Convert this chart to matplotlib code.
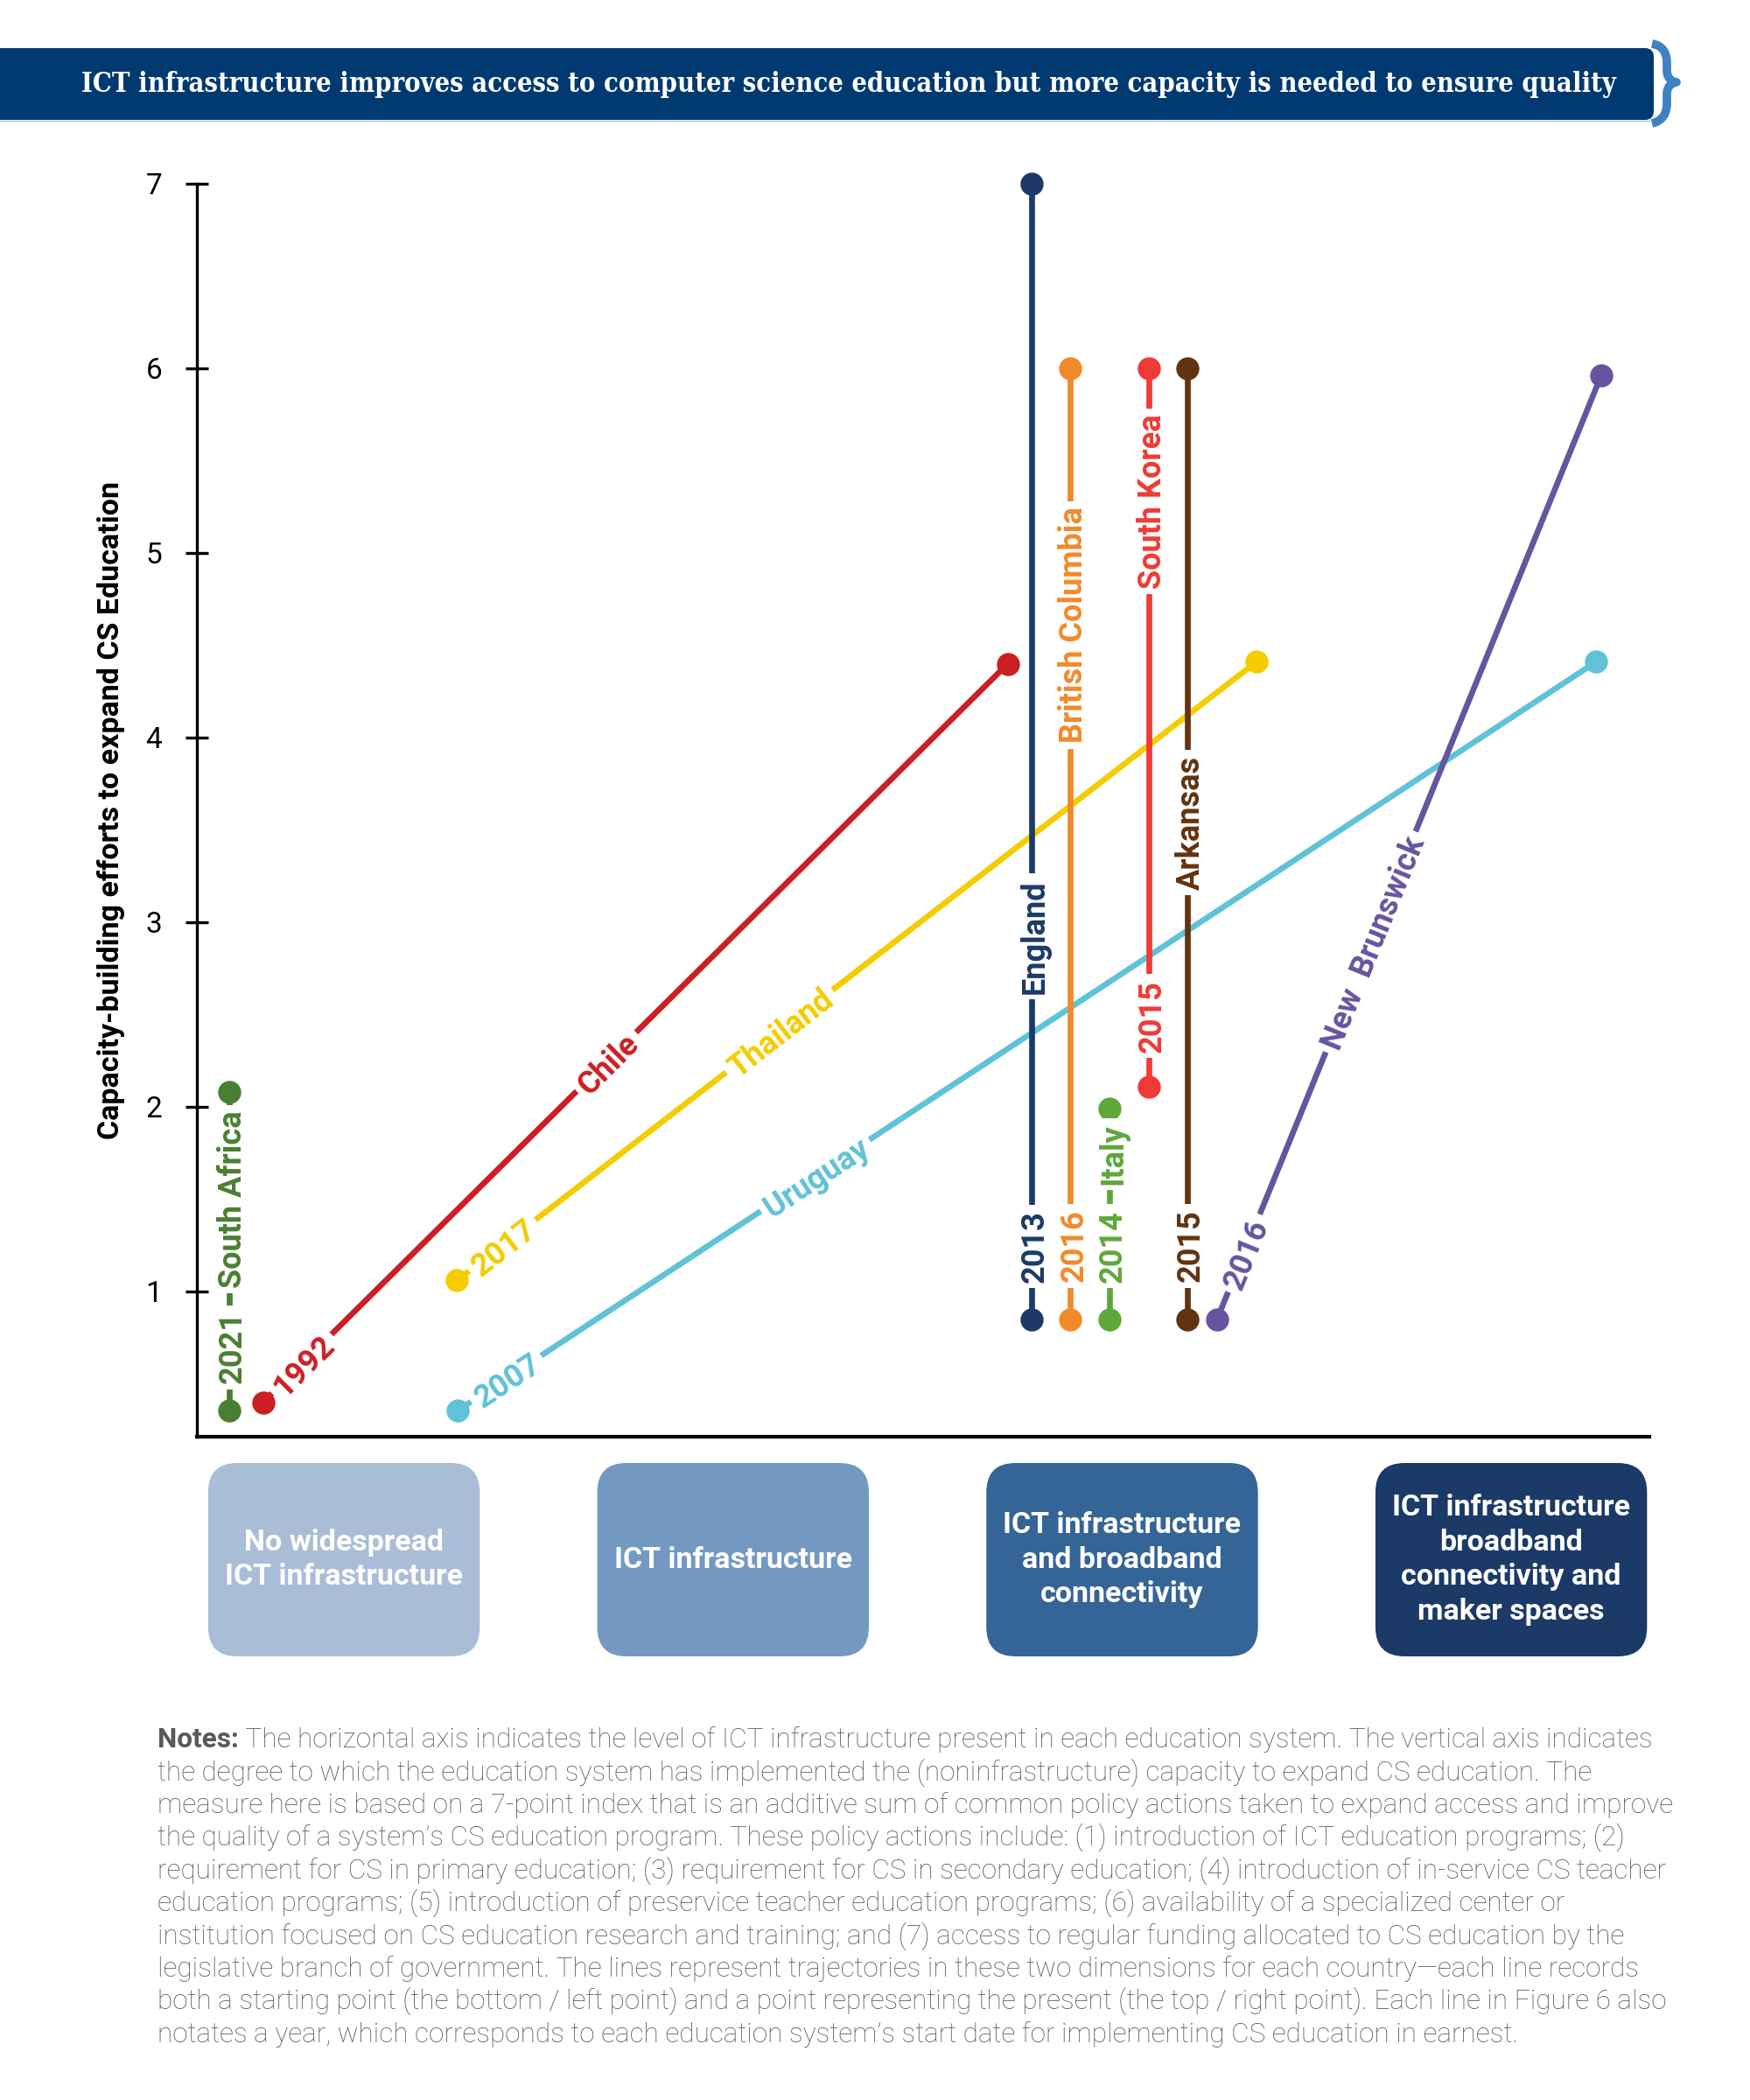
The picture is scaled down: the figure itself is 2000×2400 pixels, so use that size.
import matplotlib.pyplot as plt
import numpy as np
from matplotlib.patches import FancyBboxPatch, PathPatch
from matplotlib.path import Path

plt.rcParams["font.family"] = ["Roboto", "DejaVu Sans"]

# ---- data ----
systems = ["South Africa", "Chile", "Thailand", "Uruguay", "England",
           "British Columbia", "Italy", "South Korea", "Arkansas", "New  Brunswick"]
start_years = ["2021", "1992", "2017", "2007", "2013", "2016", "2014", "2015", "2015", "2016"]
ict_start = [0.705, 0.792, 1.291, 1.292, 2.767, 2.867, 2.968, 3.068, 3.168, 3.244]
ict_now = [0.705, 2.706, 3.345, 4.218, 2.767, 2.867, 2.968, 3.068, 3.168, 4.231]
cap_start = [0.355, 0.40, 1.06, 0.355, 0.85, 0.85, 0.85, 2.11, 0.85, 0.85]
cap_now = [2.08, 4.40, 4.41, 4.41, 7.0, 6.0, 1.99, 6.0, 6.0, 5.96]

ict_levels = ["No widespread\nICT infrastructure",
              "ICT infrastructure",
              "ICT infrastructure\nand broadband\nconnectivity",
              "ICT infrastructure\nbroadband\nconnectivity and\nmaker spaces"]
ict_level_pos = [1, 2, 3, 4]
y_ticks = [1, 2, 3, 4, 5, 6, 7]

title = ("ICT infrastructure improves access to computer science education "
         "but more capacity is needed to ensure quality")
ylabel = "Capacity-building efforts to expand CS Education"
notes_first = "The horizontal axis indicates the level of ICT infrastructure present in each education system. The vertical axis indicates"
notes_lines = [
    "the degree to which the education system has implemented the (noninfrastructure) capacity to expand CS education. The",
    "measure here is based on a 7-point index that is an additive sum of common policy actions taken to expand access and improve",
    "the quality of a system\u2019s CS education program. These policy actions include: (1) introduction of ICT education programs; (2)",
    "requirement for CS in primary education; (3) requirement for CS in secondary education; (4) introduction of in-service CS teacher",
    "education programs; (5) introduction of preservice teacher education programs; (6) availability of a specialized center or",
    "institution focused on CS education research and training; and (7) access to regular funding allocated to CS education by the",
    "legislative branch of government. The lines represent trajectories in these two dimensions for each country\u2014each line records",
    "both a starting point (the bottom / left point) and a point representing the present (the top / right point). Each line in Figure 6 also",
    "notates a year, which corresponds to each education system\u2019s start date for implementing CS education in earnest.",
]

# ---- styling ----
colors = ["#4A7F33", "#CC1F24", "#F5CC00", "#5FC2D9", "#1B3A68",
          "#F28A2B", "#5EA83A", "#EE3B36", "#62330F", "#6654A0"]
# label positions as fraction along each line (year label, name label)
year_t = [0.198, 0.052, 0.0565, 0.0426, 0.064, 0.077, 0.347, 0.098, 0.077, 0.070]
name_t = [0.664, 0.461, 0.403, 0.314, 0.337, 0.730, 0.784, 0.815, 0.522, 0.40]
box_colors = ["#A9BDD6", "#7399C3", "#356496", "#1B3A68"]
navy = "#003A70"
grey = "#58595B"

W, H = 2000, 2400
fig = plt.figure(figsize=(20, 24), dpi=100)


def fx(px):
    return px / W


def fy(py):
    return 1 - py / H


# canvas in pixel units for banner and notes
cv = fig.add_axes([0, 0, 1, 1])
cv.set_xlim(0, W)
cv.set_ylim(H, 0)
cv.axis("off")

# main plot
ax = fig.add_axes([fx(225), fy(1642), fx(1885) - fx(225), fy(210) - fy(1642)])
ax.set_xlim(0.622, 4.355)
ax.set_ylim(0.213, 7)
ax.patch.set_alpha(0)

for i, name in enumerate(systems):
    c = colors[i]
    xs = [ict_start[i], ict_now[i]]
    ys = [cap_start[i], cap_now[i]]
    ax.plot(xs, ys, color=c, lw=4.8, solid_capstyle="butt", zorder=2, clip_on=False)
    ax.plot(xs, ys, "o", ms=19, color=c, mec="none", zorder=3, clip_on=False)

    p0 = ax.transData.transform((xs[0], ys[0]))
    p1 = ax.transData.transform((xs[1], ys[1]))
    ang = np.degrees(np.arctan2(p1[1] - p0[1], p1[0] - p0[0]))
    for txt, t in ((start_years[i], year_t[i]), (name, name_t[i])):
        ax.text(xs[0] + t * (xs[1] - xs[0]), ys[0] + t * (ys[1] - ys[0]), txt,
                rotation=ang, rotation_mode="anchor", ha="center", va="center_baseline",
                color=c, fontsize=26, fontweight="bold", zorder=5,
                bbox=dict(boxstyle="square,pad=0.18", fc="white", ec="none"))

ax.set_yticks(y_ticks)
ax.set_yticklabels([str(v) for v in y_ticks])
ax.set_xticks([])
ax.tick_params(axis="y", direction="inout", length=19, width=2.4, pad=19, labelsize=24)
for s in ["top", "right"]:
    ax.spines[s].set_visible(False)
ax.spines["left"].set_linewidth(2.4)
ax.spines["bottom"].set_linewidth(3)

fig.text(fx(127), fy(926), ylabel, rotation=90, ha="center", va="center",
         fontsize=24.5, fontweight="bold")

# ICT level boxes under the axis
bx = fig.add_axes([fx(225), fy(1893), fx(1885) - fx(225), fy(1672) - fy(1893)])
bx.set_xlim(ax.get_xlim())
unit = (1885 - 225) / (ax.get_xlim()[1] - ax.get_xlim()[0])
bh = (1893 - 1672) / unit
bx.set_ylim(0, bh)
bx.axis("off")
for k, lab in enumerate(ict_levels):
    c = ict_level_pos[k]
    bx.add_patch(FancyBboxPatch((c - 0.349, 0), 0.698, bh,
                                boxstyle="round,pad=0,rounding_size=0.075",
                                fc=box_colors[k], ec="none"))
    bx.text(c, bh / 2, lab, ha="center", va="center", color="white",
            fontsize=24.5, fontweight="bold", linespacing=1.3)

# title banner
cv.add_patch(FancyBboxPatch((-20, 55), 1910, 82, boxstyle="round,pad=0,rounding_size=10",
                            fc=navy, ec="none"))
cv.plot([0, 1885], [138, 138], color="#A6C8E6", lw=1)
brace = Path([(1888, 50), (1900, 52), (1905, 60), (1905, 72), (1905, 80),
              (1905, 88), (1909, 93), (1916, 94),
              (1909, 95), (1905, 100), (1905, 108), (1905, 118),
              (1905, 130), (1900, 138), (1888, 141)],
             [Path.MOVETO, Path.CURVE4, Path.CURVE4, Path.CURVE4, Path.LINETO,
              Path.CURVE4, Path.CURVE4, Path.CURVE4,
              Path.CURVE4, Path.CURVE4, Path.CURVE4, Path.LINETO,
              Path.CURVE4, Path.CURVE4, Path.CURVE4])
cv.add_patch(PathPatch(brace, fc="none", ec="#3F82C2", lw=7, capstyle="butt",
                       joinstyle="round"))

tt = cv.text(970, 97, title, ha="center", va="center", color="white", fontsize=22,
             family="DejaVu Serif", fontstretch="condensed", fontweight="bold")
fig.canvas.draw()
tw = tt.get_window_extent().width
tt.set_fontsize(22 * 1747 / tw)

# notes
nfs = 22.7
nt = cv.text(180, 1997, "Notes:", fontsize=nfs, fontweight="bold", color=grey, va="baseline")
cv.annotate(" " + notes_first, xy=(1, 0), xycoords=nt, va="bottom", ha="left",
            fontsize=nfs, fontweight="light", color=grey)
for k, line in enumerate(notes_lines):
    cv.text(180, 1997 + (k + 1) * 37.4, line, fontsize=nfs, fontweight="light",
            color=grey, va="baseline")

fig.savefig("out.png", dpi=100)
